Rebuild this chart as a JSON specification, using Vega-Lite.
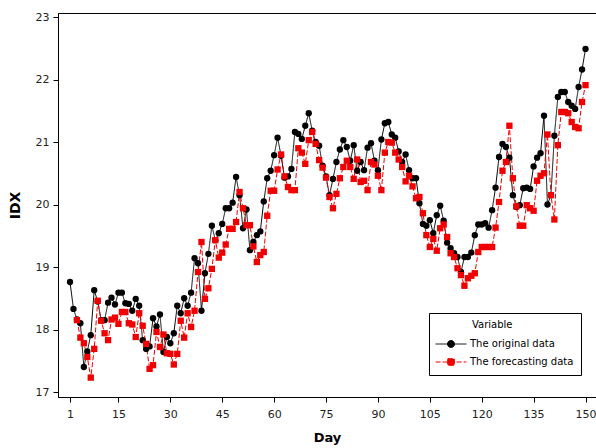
{
  "$schema": "https://vega.github.io/schema/vega-lite/v6.json",
  "width": 538,
  "height": 384,
  "autosize": {"type": "none"},
  "padding": {"left": 58, "top": 13, "right": 0, "bottom": 51},
  "background": "white",
  "config": {
    "font": "DejaVu Sans",
    "view": {"stroke": "#000", "strokeWidth": 1},
    "axis": {"grid": false, "domainColor": "#000", "tickColor": "#000", "tickSize": 5, "labelColor": "#222", "labelFontSize": 11, "labelPadding": 4, "titleFontSize": 13, "titleFontWeight": "bold", "titleColor": "#000"}
  },
  "data": {"values": [
    {"Day":1,"IDX":18.76,"Variable":"The original data"},{"Day":2,"IDX":18.33,"Variable":"The original data"},{"Day":3,"IDX":18.16,"Variable":"The original data"},{"Day":4,"IDX":18.10,"Variable":"The original data"},{"Day":5,"IDX":17.40,"Variable":"The original data"},{"Day":6,"IDX":17.65,"Variable":"The original data"},{"Day":7,"IDX":17.91,"Variable":"The original data"},{"Day":8,"IDX":18.63,"Variable":"The original data"},{"Day":9,"IDX":18.45,"Variable":"The original data"},{"Day":10,"IDX":18.15,"Variable":"The original data"},
    {"Day":11,"IDX":18.15,"Variable":"The original data"},{"Day":12,"IDX":18.43,"Variable":"The original data"},{"Day":13,"IDX":18.51,"Variable":"The original data"},{"Day":14,"IDX":18.40,"Variable":"The original data"},{"Day":15,"IDX":18.59,"Variable":"The original data"},{"Day":16,"IDX":18.59,"Variable":"The original data"},{"Day":17,"IDX":18.42,"Variable":"The original data"},{"Day":18,"IDX":18.41,"Variable":"The original data"},{"Day":19,"IDX":18.30,"Variable":"The original data"},{"Day":20,"IDX":18.49,"Variable":"The original data"},
    {"Day":21,"IDX":18.38,"Variable":"The original data"},{"Day":22,"IDX":17.83,"Variable":"The original data"},{"Day":23,"IDX":17.69,"Variable":"The original data"},{"Day":24,"IDX":17.73,"Variable":"The original data"},{"Day":25,"IDX":18.18,"Variable":"The original data"},{"Day":26,"IDX":18.05,"Variable":"The original data"},{"Day":27,"IDX":18.24,"Variable":"The original data"},{"Day":28,"IDX":17.64,"Variable":"The original data"},{"Day":29,"IDX":17.88,"Variable":"The original data"},{"Day":30,"IDX":17.78,"Variable":"The original data"},
    {"Day":31,"IDX":17.94,"Variable":"The original data"},{"Day":32,"IDX":18.38,"Variable":"The original data"},{"Day":33,"IDX":18.26,"Variable":"The original data"},{"Day":34,"IDX":18.50,"Variable":"The original data"},{"Day":35,"IDX":18.38,"Variable":"The original data"},{"Day":36,"IDX":18.59,"Variable":"The original data"},{"Day":37,"IDX":19.14,"Variable":"The original data"},{"Day":38,"IDX":19.06,"Variable":"The original data"},{"Day":39,"IDX":18.30,"Variable":"The original data"},{"Day":40,"IDX":18.90,"Variable":"The original data"},
    {"Day":41,"IDX":19.21,"Variable":"The original data"},{"Day":42,"IDX":19.66,"Variable":"The original data"},{"Day":43,"IDX":19.43,"Variable":"The original data"},{"Day":44,"IDX":19.54,"Variable":"The original data"},{"Day":45,"IDX":19.69,"Variable":"The original data"},{"Day":46,"IDX":19.94,"Variable":"The original data"},{"Day":47,"IDX":19.94,"Variable":"The original data"},{"Day":48,"IDX":20.03,"Variable":"The original data"},{"Day":49,"IDX":20.44,"Variable":"The original data"},{"Day":50,"IDX":20.15,"Variable":"The original data"},
    {"Day":51,"IDX":19.62,"Variable":"The original data"},{"Day":52,"IDX":19.92,"Variable":"The original data"},{"Day":53,"IDX":19.27,"Variable":"The original data"},{"Day":54,"IDX":19.40,"Variable":"The original data"},{"Day":55,"IDX":19.51,"Variable":"The original data"},{"Day":56,"IDX":19.57,"Variable":"The original data"},{"Day":57,"IDX":20.05,"Variable":"The original data"},{"Day":58,"IDX":20.42,"Variable":"The original data"},{"Day":59,"IDX":20.54,"Variable":"The original data"},{"Day":60,"IDX":20.79,"Variable":"The original data"},
    {"Day":61,"IDX":21.07,"Variable":"The original data"},{"Day":62,"IDX":20.78,"Variable":"The original data"},{"Day":63,"IDX":20.43,"Variable":"The original data"},{"Day":64,"IDX":20.45,"Variable":"The original data"},{"Day":65,"IDX":20.57,"Variable":"The original data"},{"Day":66,"IDX":21.16,"Variable":"The original data"},{"Day":67,"IDX":21.13,"Variable":"The original data"},{"Day":68,"IDX":21.05,"Variable":"The original data"},{"Day":69,"IDX":21.26,"Variable":"The original data"},{"Day":70,"IDX":21.46,"Variable":"The original data"},
    {"Day":71,"IDX":21.18,"Variable":"The original data"},{"Day":72,"IDX":21.00,"Variable":"The original data"},{"Day":73,"IDX":20.94,"Variable":"The original data"},{"Day":74,"IDX":20.62,"Variable":"The original data"},{"Day":75,"IDX":20.45,"Variable":"The original data"},{"Day":76,"IDX":20.15,"Variable":"The original data"},{"Day":77,"IDX":20.41,"Variable":"The original data"},{"Day":78,"IDX":20.68,"Variable":"The original data"},{"Day":79,"IDX":20.88,"Variable":"The original data"},{"Day":80,"IDX":21.03,"Variable":"The original data"},
    {"Day":81,"IDX":20.92,"Variable":"The original data"},{"Day":82,"IDX":20.70,"Variable":"The original data"},{"Day":83,"IDX":20.95,"Variable":"The original data"},{"Day":84,"IDX":20.54,"Variable":"The original data"},{"Day":85,"IDX":20.68,"Variable":"The original data"},{"Day":86,"IDX":20.55,"Variable":"The original data"},{"Day":87,"IDX":20.91,"Variable":"The original data"},{"Day":88,"IDX":20.98,"Variable":"The original data"},{"Day":89,"IDX":20.70,"Variable":"The original data"},{"Day":90,"IDX":20.55,"Variable":"The original data"},
    {"Day":91,"IDX":21.04,"Variable":"The original data"},{"Day":92,"IDX":21.30,"Variable":"The original data"},{"Day":93,"IDX":21.32,"Variable":"The original data"},{"Day":94,"IDX":21.12,"Variable":"The original data"},{"Day":95,"IDX":21.07,"Variable":"The original data"},{"Day":96,"IDX":20.85,"Variable":"The original data"},{"Day":97,"IDX":20.68,"Variable":"The original data"},{"Day":98,"IDX":20.80,"Variable":"The original data"},{"Day":99,"IDX":20.55,"Variable":"The original data"},{"Day":100,"IDX":20.42,"Variable":"The original data"},
    {"Day":101,"IDX":20.42,"Variable":"The original data"},{"Day":102,"IDX":20.02,"Variable":"The original data"},{"Day":103,"IDX":19.69,"Variable":"The original data"},{"Day":104,"IDX":19.66,"Variable":"The original data"},{"Day":105,"IDX":19.75,"Variable":"The original data"},{"Day":106,"IDX":19.54,"Variable":"The original data"},{"Day":107,"IDX":19.83,"Variable":"The original data"},{"Day":108,"IDX":19.98,"Variable":"The original data"},{"Day":109,"IDX":19.74,"Variable":"The original data"},{"Day":110,"IDX":19.39,"Variable":"The original data"},
    {"Day":111,"IDX":19.30,"Variable":"The original data"},{"Day":112,"IDX":19.22,"Variable":"The original data"},{"Day":113,"IDX":19.16,"Variable":"The original data"},{"Day":114,"IDX":18.92,"Variable":"The original data"},{"Day":115,"IDX":19.16,"Variable":"The original data"},{"Day":116,"IDX":19.16,"Variable":"The original data"},{"Day":117,"IDX":19.23,"Variable":"The original data"},{"Day":118,"IDX":19.51,"Variable":"The original data"},{"Day":119,"IDX":19.68,"Variable":"The original data"},{"Day":120,"IDX":19.68,"Variable":"The original data"},
    {"Day":121,"IDX":19.70,"Variable":"The original data"},{"Day":122,"IDX":19.63,"Variable":"The original data"},{"Day":123,"IDX":19.91,"Variable":"The original data"},{"Day":124,"IDX":20.27,"Variable":"The original data"},{"Day":125,"IDX":20.76,"Variable":"The original data"},{"Day":126,"IDX":20.97,"Variable":"The original data"},{"Day":127,"IDX":20.92,"Variable":"The original data"},{"Day":128,"IDX":20.75,"Variable":"The original data"},{"Day":129,"IDX":20.15,"Variable":"The original data"},{"Day":130,"IDX":19.96,"Variable":"The original data"},
    {"Day":131,"IDX":19.99,"Variable":"The original data"},{"Day":132,"IDX":20.26,"Variable":"The original data"},{"Day":133,"IDX":20.27,"Variable":"The original data"},{"Day":134,"IDX":20.25,"Variable":"The original data"},{"Day":135,"IDX":20.61,"Variable":"The original data"},{"Day":136,"IDX":20.75,"Variable":"The original data"},{"Day":137,"IDX":20.82,"Variable":"The original data"},{"Day":138,"IDX":21.42,"Variable":"The original data"},{"Day":139,"IDX":20.00,"Variable":"The original data"},{"Day":140,"IDX":20.15,"Variable":"The original data"},
    {"Day":141,"IDX":21.10,"Variable":"The original data"},{"Day":142,"IDX":21.72,"Variable":"The original data"},{"Day":143,"IDX":21.80,"Variable":"The original data"},{"Day":144,"IDX":21.80,"Variable":"The original data"},{"Day":145,"IDX":21.64,"Variable":"The original data"},{"Day":146,"IDX":21.58,"Variable":"The original data"},{"Day":147,"IDX":21.53,"Variable":"The original data"},{"Day":148,"IDX":21.88,"Variable":"The original data"},{"Day":149,"IDX":22.16,"Variable":"The original data"},{"Day":150,"IDX":22.49,"Variable":"The original data"},
    {"Day":3,"IDX":18.15,"Variable":"The forecasting data"},{"Day":4,"IDX":17.87,"Variable":"The forecasting data"},{"Day":5,"IDX":17.78,"Variable":"The forecasting data"},{"Day":6,"IDX":17.56,"Variable":"The forecasting data"},{"Day":7,"IDX":17.23,"Variable":"The forecasting data"},{"Day":8,"IDX":17.69,"Variable":"The forecasting data"},{"Day":9,"IDX":18.46,"Variable":"The forecasting data"},{"Day":10,"IDX":18.14,"Variable":"The forecasting data"},
    {"Day":11,"IDX":17.94,"Variable":"The forecasting data"},{"Day":12,"IDX":17.83,"Variable":"The forecasting data"},{"Day":13,"IDX":18.16,"Variable":"The forecasting data"},{"Day":14,"IDX":18.19,"Variable":"The forecasting data"},{"Day":15,"IDX":18.09,"Variable":"The forecasting data"},{"Day":16,"IDX":18.28,"Variable":"The forecasting data"},{"Day":17,"IDX":18.28,"Variable":"The forecasting data"},{"Day":18,"IDX":18.10,"Variable":"The forecasting data"},{"Day":19,"IDX":18.08,"Variable":"The forecasting data"},{"Day":20,"IDX":17.88,"Variable":"The forecasting data"},
    {"Day":21,"IDX":18.26,"Variable":"The forecasting data"},{"Day":22,"IDX":18.06,"Variable":"The forecasting data"},{"Day":23,"IDX":17.77,"Variable":"The forecasting data"},{"Day":24,"IDX":17.37,"Variable":"The forecasting data"},{"Day":25,"IDX":17.43,"Variable":"The forecasting data"},{"Day":26,"IDX":17.96,"Variable":"The forecasting data"},{"Day":27,"IDX":17.72,"Variable":"The forecasting data"},{"Day":28,"IDX":17.92,"Variable":"The forecasting data"},{"Day":29,"IDX":17.62,"Variable":"The forecasting data"},{"Day":30,"IDX":17.61,"Variable":"The forecasting data"},
    {"Day":31,"IDX":17.44,"Variable":"The forecasting data"},{"Day":32,"IDX":17.61,"Variable":"The forecasting data"},{"Day":33,"IDX":18.14,"Variable":"The forecasting data"},{"Day":34,"IDX":17.87,"Variable":"The forecasting data"},{"Day":35,"IDX":18.26,"Variable":"The forecasting data"},{"Day":36,"IDX":18.04,"Variable":"The forecasting data"},{"Day":37,"IDX":18.30,"Variable":"The forecasting data"},{"Day":38,"IDX":18.92,"Variable":"The forecasting data"},{"Day":39,"IDX":19.40,"Variable":"The forecasting data"},{"Day":40,"IDX":18.49,"Variable":"The forecasting data"},
    {"Day":41,"IDX":18.66,"Variable":"The forecasting data"},{"Day":42,"IDX":18.97,"Variable":"The forecasting data"},{"Day":43,"IDX":19.43,"Variable":"The forecasting data"},{"Day":44,"IDX":19.15,"Variable":"The forecasting data"},{"Day":45,"IDX":19.23,"Variable":"The forecasting data"},{"Day":46,"IDX":19.36,"Variable":"The forecasting data"},{"Day":47,"IDX":19.61,"Variable":"The forecasting data"},{"Day":48,"IDX":19.61,"Variable":"The forecasting data"},{"Day":49,"IDX":19.72,"Variable":"The forecasting data"},{"Day":50,"IDX":20.20,"Variable":"The forecasting data"},
    {"Day":51,"IDX":19.94,"Variable":"The forecasting data"},{"Day":52,"IDX":19.67,"Variable":"The forecasting data"},{"Day":53,"IDX":19.67,"Variable":"The forecasting data"},{"Day":54,"IDX":19.33,"Variable":"The forecasting data"},{"Day":55,"IDX":19.08,"Variable":"The forecasting data"},{"Day":56,"IDX":19.19,"Variable":"The forecasting data"},{"Day":57,"IDX":19.24,"Variable":"The forecasting data"},{"Day":58,"IDX":19.82,"Variable":"The forecasting data"},{"Day":59,"IDX":20.22,"Variable":"The forecasting data"},{"Day":60,"IDX":20.22,"Variable":"The forecasting data"},
    {"Day":61,"IDX":20.56,"Variable":"The forecasting data"},{"Day":62,"IDX":20.80,"Variable":"The forecasting data"},{"Day":63,"IDX":20.45,"Variable":"The forecasting data"},{"Day":64,"IDX":20.28,"Variable":"The forecasting data"},{"Day":65,"IDX":20.23,"Variable":"The forecasting data"},{"Day":66,"IDX":20.23,"Variable":"The forecasting data"},{"Day":67,"IDX":20.90,"Variable":"The forecasting data"},{"Day":68,"IDX":20.83,"Variable":"The forecasting data"},{"Day":69,"IDX":20.65,"Variable":"The forecasting data"},{"Day":70,"IDX":21.03,"Variable":"The forecasting data"},
    {"Day":71,"IDX":21.16,"Variable":"The forecasting data"},{"Day":72,"IDX":20.97,"Variable":"The forecasting data"},{"Day":73,"IDX":20.71,"Variable":"The forecasting data"},{"Day":74,"IDX":20.59,"Variable":"The forecasting data"},{"Day":75,"IDX":20.43,"Variable":"The forecasting data"},{"Day":76,"IDX":20.12,"Variable":"The forecasting data"},{"Day":77,"IDX":19.94,"Variable":"The forecasting data"},{"Day":78,"IDX":20.17,"Variable":"The forecasting data"},{"Day":79,"IDX":20.42,"Variable":"The forecasting data"},{"Day":80,"IDX":20.60,"Variable":"The forecasting data"},
    {"Day":81,"IDX":20.70,"Variable":"The forecasting data"},{"Day":82,"IDX":20.60,"Variable":"The forecasting data"},{"Day":83,"IDX":20.41,"Variable":"The forecasting data"},{"Day":84,"IDX":20.72,"Variable":"The forecasting data"},{"Day":85,"IDX":20.36,"Variable":"The forecasting data"},{"Day":86,"IDX":20.38,"Variable":"The forecasting data"},{"Day":87,"IDX":20.23,"Variable":"The forecasting data"},{"Day":88,"IDX":20.68,"Variable":"The forecasting data"},{"Day":89,"IDX":20.64,"Variable":"The forecasting data"},{"Day":90,"IDX":20.46,"Variable":"The forecasting data"},
    {"Day":91,"IDX":20.23,"Variable":"The forecasting data"},{"Day":92,"IDX":20.83,"Variable":"The forecasting data"},{"Day":93,"IDX":21.00,"Variable":"The forecasting data"},{"Day":94,"IDX":20.99,"Variable":"The forecasting data"},{"Day":95,"IDX":20.83,"Variable":"The forecasting data"},{"Day":96,"IDX":20.72,"Variable":"The forecasting data"},{"Day":97,"IDX":20.60,"Variable":"The forecasting data"},{"Day":98,"IDX":20.37,"Variable":"The forecasting data"},{"Day":99,"IDX":20.46,"Variable":"The forecasting data"},{"Day":100,"IDX":20.29,"Variable":"The forecasting data"},
    {"Day":101,"IDX":20.10,"Variable":"The forecasting data"},{"Day":102,"IDX":20.12,"Variable":"The forecasting data"},{"Day":103,"IDX":19.86,"Variable":"The forecasting data"},{"Day":104,"IDX":19.51,"Variable":"The forecasting data"},{"Day":105,"IDX":19.32,"Variable":"The forecasting data"},{"Day":106,"IDX":19.45,"Variable":"The forecasting data"},{"Day":107,"IDX":19.26,"Variable":"The forecasting data"},{"Day":108,"IDX":19.62,"Variable":"The forecasting data"},{"Day":109,"IDX":19.68,"Variable":"The forecasting data"},{"Day":110,"IDX":19.48,"Variable":"The forecasting data"},
    {"Day":111,"IDX":19.22,"Variable":"The forecasting data"},{"Day":112,"IDX":19.16,"Variable":"The forecasting data"},{"Day":113,"IDX":18.98,"Variable":"The forecasting data"},{"Day":114,"IDX":18.87,"Variable":"The forecasting data"},{"Day":115,"IDX":18.70,"Variable":"The forecasting data"},{"Day":116,"IDX":18.82,"Variable":"The forecasting data"},{"Day":117,"IDX":18.86,"Variable":"The forecasting data"},{"Day":118,"IDX":18.90,"Variable":"The forecasting data"},{"Day":119,"IDX":19.24,"Variable":"The forecasting data"},{"Day":120,"IDX":19.32,"Variable":"The forecasting data"},
    {"Day":121,"IDX":19.32,"Variable":"The forecasting data"},{"Day":122,"IDX":19.32,"Variable":"The forecasting data"},{"Day":123,"IDX":19.32,"Variable":"The forecasting data"},{"Day":124,"IDX":19.63,"Variable":"The forecasting data"},{"Day":125,"IDX":20.04,"Variable":"The forecasting data"},{"Day":126,"IDX":20.54,"Variable":"The forecasting data"},{"Day":127,"IDX":20.68,"Variable":"The forecasting data"},{"Day":128,"IDX":21.26,"Variable":"The forecasting data"},{"Day":129,"IDX":20.42,"Variable":"The forecasting data"},{"Day":130,"IDX":19.97,"Variable":"The forecasting data"},
    {"Day":131,"IDX":19.66,"Variable":"The forecasting data"},{"Day":132,"IDX":19.66,"Variable":"The forecasting data"},{"Day":133,"IDX":19.99,"Variable":"The forecasting data"},{"Day":134,"IDX":19.94,"Variable":"The forecasting data"},{"Day":135,"IDX":19.90,"Variable":"The forecasting data"},{"Day":136,"IDX":20.38,"Variable":"The forecasting data"},{"Day":137,"IDX":20.46,"Variable":"The forecasting data"},{"Day":138,"IDX":20.50,"Variable":"The forecasting data"},{"Day":139,"IDX":21.12,"Variable":"The forecasting data"},{"Day":140,"IDX":20.15,"Variable":"The forecasting data"},
    {"Day":141,"IDX":19.76,"Variable":"The forecasting data"},{"Day":142,"IDX":20.95,"Variable":"The forecasting data"},{"Day":143,"IDX":21.48,"Variable":"The forecasting data"},{"Day":144,"IDX":21.48,"Variable":"The forecasting data"},{"Day":145,"IDX":21.46,"Variable":"The forecasting data"},{"Day":146,"IDX":21.32,"Variable":"The forecasting data"},{"Day":147,"IDX":21.24,"Variable":"The forecasting data"},{"Day":148,"IDX":21.22,"Variable":"The forecasting data"},{"Day":149,"IDX":21.64,"Variable":"The forecasting data"},{"Day":150,"IDX":21.91,"Variable":"The forecasting data"}
  ]},
  "encoding": {
    "x": {"field": "Day", "type": "quantitative", "scale": {"domain": [-2.47, 153.03], "nice": false, "zero": false},
          "axis": {"values": [1, 15, 30, 45, 60, 75, 90, 105, 120, 135, 150], "title": "Day", "labelPadding": 6, "titlePadding": 12}},
    "y": {"field": "IDX", "type": "quantitative", "scale": {"domain": [16.92, 23.064], "nice": false, "zero": false},
          "axis": {"values": [17, 18, 19, 20, 21, 22, 23], "title": "IDX", "titlePadding": 13, "titleFontSize": 14}},
    "color": {"field": "Variable", "type": "nominal",
              "scale": {"domain": ["The original data", "The forecasting data"], "range": ["#000000", "#f00000"]},
              "legend": {"orient": "none", "legendX": 371, "legendY": 300, "title": "Variable", "titleFontWeight": "normal", "titleFontSize": 10, "titleColor": "#000", "labelFontSize": 10, "labelColor": "#000", "fillColor": "white", "strokeColor": "#000", "padding": 7, "titlePadding": 9, "rowPadding": 6, "symbolSize": 49, "labelOffset": 14, "symbolOffset": 10,
                         "encode": {
                           "title": {"update": {"dx": {"value": 36}}},
                           "symbols": {"update": {
                             "shape": {"signal": "datum.value === 'The original data' ? 'M-4.4,0L4.4,0M1,0A1,1,0,1,1,-1,0A1,1,0,1,1,1,0Z' : 'M-4.4,0L4.4,0M-0.95,-0.95L0.95,-0.95L0.95,0.95L-0.95,0.95Z'"},
                             "stroke": {"signal": "datum.value === 'The original data' ? '#000000' : '#f00000'"},
                             "fill": {"signal": "datum.value === 'The original data' ? '#000000' : '#f00000'"},
                             "strokeWidth": {"value": 1},
                             "strokeDash": {"value": [1, 0]},
                             "opacity": {"value": 1}
                           }}
                         }}}
  },
  "layer": [
    {"mark": {"type": "line", "strokeWidth": 1},
     "encoding": {"strokeDash": {"field": "Variable", "type": "nominal", "scale": {"domain": ["The original data", "The forecasting data"], "range": [[1, 0], [5, 2]]}, "legend": null}}},
    {"transform": [{"filter": "datum.Variable === 'The original data'"}],
     "mark": {"type": "point", "filled": true, "opacity": 1, "size": 40, "shape": "circle"}},
    {"transform": [{"filter": "datum.Variable === 'The forecasting data'"}],
     "mark": {"type": "point", "filled": true, "opacity": 1, "size": 40, "shape": "square"}}
  ]
}
